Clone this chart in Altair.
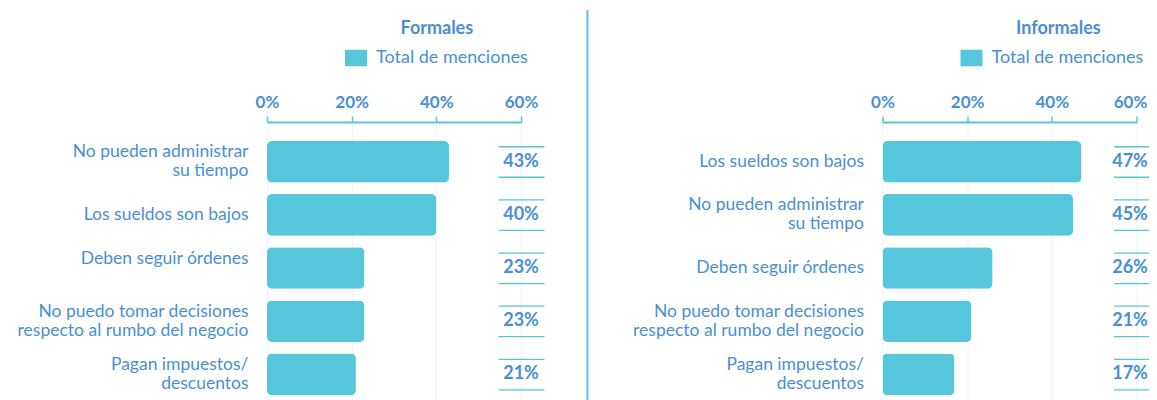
import altair as alt
import pandas as pd

# ---------------- data ----------------
formal_categories = [
    "No pueden administrar|su tiempo",
    "Los sueldos son bajos",
    "Deben seguir órdenes|",
    "No puedo tomar decisiones|respecto al rumbo del negocio",
    "Pagan impuestos/|descuentos",
]
formal_values = [43, 40, 23, 23, 21]

informal_categories = [
    "Los sueldos son bajos",
    "No pueden administrar|su tiempo",
    "Deben seguir órdenes",
    "No puedo tomar decisiones|respecto al rumbo del negocio",
    "Pagan impuestos/|descuentos",
]
informal_values = [47, 45, 26, 21, 17]

x_ticks = [0, 20, 40, 60]
series_name = "Total de menciones"
panel_titles = ["Formales", "Informales"]

# ---------------- style ----------------
FONT = "Lato"
BLUE = "#4a8fd3"
CYAN = "#56c6da"
GRID = "#eaf6fa"
LEGEND_SYMBOL = "M-1,-0.75 H1 V0.75 H-1 Z"


def panel(categories, values, title, divider, edge_shift):
    df = pd.DataFrame({"categoria": categories, "valor": values, "serie": series_name})

    x_enc = alt.X(
        "valor:Q",
        scale=alt.Scale(domain=[0, 60], nice=False, zero=True),
        axis=alt.Axis(
            orient="top", values=x_ticks, labelExpr="datum.value + '%'", title=None,
            domainColor=CYAN, domainWidth=2, tickColor=CYAN, tickSize=6, tickWidth=1.5,
            labelFont=FONT, labelFontWeight="bold", labelFontSize=17, labelColor=BLUE,
            labelPadding=5, labelFlush=False, labelOverlap=False,
            labelOffset={"condition": {"test": "datum.value == 60", "value": edge_shift}, "value": 0},
            grid=True, gridColor=GRID, gridWidth=1,
        ),
    )
    y_scale = alt.Scale(paddingInner=0.218, paddingOuter=0.224, align=0.796)
    y_enc = alt.Y(
        "categoria:N", sort=categories, scale=y_scale,
        axis=alt.Axis(
            title=None, orient="left", domain=False, ticks=False, grid=False,
            labelPadding=19, labelExpr="split(datum.label, '|')", labelFont=FONT,
            labelFontSize=17.5, labelColor=BLUE, labelLineHeight=19, labelLimit=400,
            labelAlign="right", labelBaseline="middle", minExtent=259, maxExtent=259,
            labelOffset={"condition": {"test": "indexof(datum.value, '|') >= 0", "value": -9.5}, "value": 0},
        ),
    )
    y_plain = alt.Y("categoria:N", sort=categories, scale=y_scale)

    bars = alt.Chart(df).mark_bar(cornerRadius=5).encode(
        x=x_enc,
        y=y_enc,
        color=alt.Color(
            "serie:N",
            scale=alt.Scale(range=[CYAN]),
            legend=alt.Legend(
                orient="none", legendX=78, legendY=-75, title=None,
                symbolType=LEGEND_SYMBOL, symbolSize=484, symbolStrokeWidth=0,
                labelFont=FONT, labelFontSize=18, labelColor=BLUE, labelOffset=9,
            ),
        ),
    )

    values_text = alt.Chart(df).transform_calculate(
        etiqueta="datum.valor + '%'"
    ).mark_text(
        font=FONT, fontWeight="bold", fontSize=18, color=BLUE, align="center", baseline="middle",
        xOffset=edge_shift,
    ).encode(x=alt.datum(60), y=y_plain, text="etiqueta:N")

    rule_top = alt.Chart(df).mark_rule(
        color=CYAN, strokeWidth=1.3, yOffset=-15, xOffset=-22.5, x2Offset=23.5
    ).encode(x=alt.datum(60), x2=alt.datum(60), y=y_plain)
    rule_bottom = alt.Chart(df).mark_rule(
        color=CYAN, strokeWidth=1.3, yOffset=15.5, xOffset=-22.5, x2Offset=23.5
    ).encode(x=alt.datum(60), x2=alt.datum(60), y=y_plain)

    title_text = alt.Chart(pd.DataFrame({"titulo": [title]})).mark_text(
        font=FONT, fontWeight="bold", fontSize=18, color=BLUE, align="left", baseline="alphabetic"
    ).encode(x=alt.value(133.5), y=alt.value(-88.5), text="titulo:N")

    layers = [bars, rule_top, rule_bottom, values_text, title_text]
    if divider:
        div = alt.Chart(pd.DataFrame({"d": [0]})).mark_rule(color=CYAN, strokeWidth=2).encode(
            x=alt.value(-295), y=alt.value(-112), y2=alt.value(278)
        )
        layers.append(div)

    return alt.layer(*layers).properties(width=254, height=278)


left = panel(formal_categories, formal_values, panel_titles[0], False, 0)
right = panel(informal_categories, informal_values, panel_titles[1], True, -6.5)

chart = alt.hconcat(left, right, spacing=361.5, bounds="flush").properties(
    autosize=alt.AutoSizeParams(type="none"),
    padding={"left": 259, "top": 114, "right": 882, "bottom": 278},
).resolve_scale(y="independent", x="independent", color="independent").resolve_legend(
    color="independent"
).configure_view(strokeWidth=0)

chart.save("out.html", embed_options={"renderer": "svg", "actions": False})
